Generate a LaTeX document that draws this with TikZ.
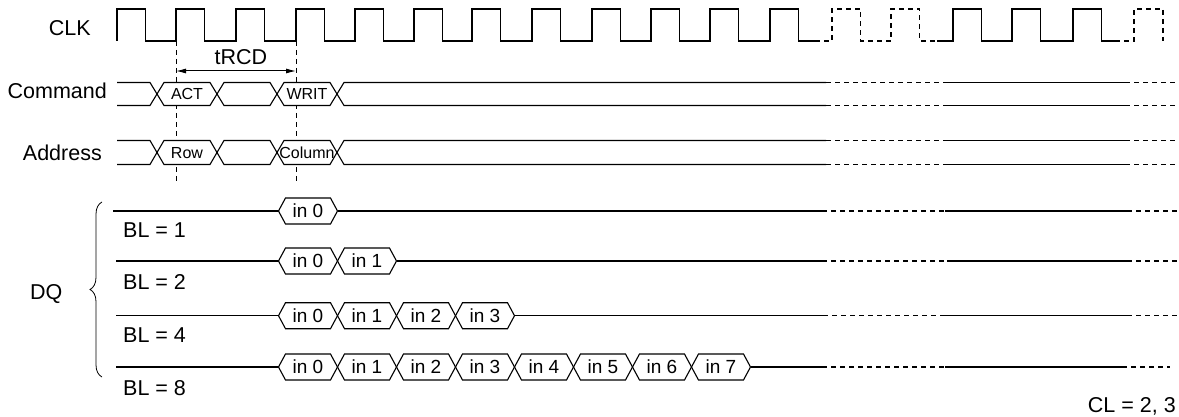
\documentclass[tikz,border=0pt]{standalone}
\usepackage{fontspec}
\setmainfont{Liberation Sans}
\usetikzlibrary{arrows.meta,decorations.pathreplacing}
\newcommand{\hexcell}[5]{% x1, x2, yc, h, d
  \draw[sig, fill=white] ({#1},{#3}) -- ({#1+#5},{#3-#4}) -- ({#2-#5},{#3-#4}) -- ({#2},{#3})
    -- ({#2-#5},{#3+#4}) -- ({#1+#5},{#3+#4}) -- cycle;}
\tikzset{
  sig/.style={line width=1.1pt, line join=miter},
  dsig/.style={sig, dash pattern=on 5pt off 4pt},
  lbl/.style={font=\fontsize{21.5}{25}\selectfont, inner sep=0pt, text depth=0pt},
  cmdtxt/.style={font=\fontsize{16}{19}\selectfont, inner sep=0pt, text depth=0pt},
  dqtxt/.style={font=\fontsize{19}{22}\selectfont, inner sep=0pt, text depth=0pt},
  marker/.style={line width=0.8pt, dash pattern=on 5pt off 4pt},
}
\begin{document}
\begin{tikzpicture}[x=1pt, y=-1pt]
\useasboundingbox (0,0) rectangle (1179,417);

% ---------- labels ----------
\node[lbl, anchor=east] (clk) at (91,28) {CLK};
\node[lbl, anchor=east] (cmd) at (107,91) {Command};
\node[lbl, anchor=east] (addr) at (102,153) {Address};
\node[lbl, anchor=west] (dq) at (30,292) {DQ};
\node[lbl, anchor=west] (bl1) at (123,230.5) {BL = 1};
\node[lbl, anchor=west] (bl2) at (123,281.7) {BL = 2};
\node[lbl, anchor=west] (bl4) at (123,335.3) {BL = 4};
\node[lbl, anchor=west] (bl8) at (123,387.8) {BL = 8};
\node[lbl, anchor=east] (cl) at (1176,405) {CL = 2, 3};

% ---------- clock ----------
\draw[sig] (117,41)
  \foreach \r in {117,176,236,296,355,414,472,532,592,651,710,770} {
    -- (\r,41) -- (\r,9) -- (\r+28.5,9) -- (\r+28.5,41) } -- (815,41);
\draw[dsig] (815,41) -- (832,41) -- (832,9) -- (860.5,9) -- (860.5,41) -- (891,41)
  -- (891,9) -- (919.5,9) -- (919.5,41) -- (937,41);
\draw[sig] (937,41)
  \foreach \r in {953,1012,1073} {
    -- (\r,41) -- (\r,9) -- (\r+28.5,9) -- (\r+28.5,41) } -- (1115,41);
\draw[dsig] (1115,41) -- (1134,41) -- (1134,9) -- (1163,9) -- (1163,41);

% ---------- tRCD markers ----------
\coordinate (m1top) at (176,41);
\coordinate (m1bot) at (176,182);
\coordinate (m2top) at (296,41);
\coordinate (m2bot) at (296,182);
\draw[marker] (m1top) -- (m1bot);
\draw[marker] (m2top) -- (m2bot);
\coordinate (a1) at (176,71);
\coordinate (a2) at (296,71);
\draw[line width=1pt, {Latex[length=10pt,width=5pt]}-{Latex[length=10pt,width=5pt]}] (a1) -- (a2);
\node[lbl] (trcd) at (241,57) {tRCD};

% ---------- Command bus ----------
\def\yc{94}\def\hh{11.5}
\draw[sig] (117,\yc-\hh) -- (150,\yc-\hh) -- (157,\yc) -- (150,\yc+\hh) -- (117,\yc+\hh);
\hexcell{157}{217}{\yc}{\hh}{7}
\hexcell{217}{277}{\yc}{\hh}{7}
\hexcell{277}{337}{\yc}{\hh}{7}
\draw[sig] (826,\yc-\hh) -- (344,\yc-\hh) -- (337,\yc) -- (344,\yc+\hh) -- (826,\yc+\hh);
\draw[dsig] (826,\yc-\hh) -- (946,\yc-\hh) (826,\yc+\hh) -- (946,\yc+\hh);
\draw[sig] (946,\yc-\hh) -- (1125,\yc-\hh) (946,\yc+\hh) -- (1125,\yc+\hh);
\draw[dsig] (1125,\yc-\hh) -- (1179,\yc-\hh) (1125,\yc+\hh) -- (1179,\yc+\hh);
\node[cmdtxt] (act) at (187,\yc) {ACT};
\node[cmdtxt] (writ) at (307,\yc) {WRIT};

% ---------- Address bus ----------
\def\yc{152.5}\def\hh{12}
\draw[sig] (117,\yc-\hh) -- (150,\yc-\hh) -- (157,\yc) -- (150,\yc+\hh) -- (117,\yc+\hh);
\hexcell{157}{217}{\yc}{\hh}{7}
\hexcell{217}{277}{\yc}{\hh}{7}
\hexcell{277}{337}{\yc}{\hh}{7}
\draw[sig] (826,\yc-\hh) -- (344,\yc-\hh) -- (337,\yc) -- (344,\yc+\hh) -- (826,\yc+\hh);
\draw[dsig] (826,\yc-\hh) -- (946,\yc-\hh) (826,\yc+\hh) -- (946,\yc+\hh);
\draw[sig] (946,\yc-\hh) -- (1125,\yc-\hh) (946,\yc+\hh) -- (1125,\yc+\hh);
\draw[dsig] (1125,\yc-\hh) -- (1179,\yc-\hh) (1125,\yc+\hh) -- (1179,\yc+\hh);
\node[cmdtxt] (row) at (187,\yc) {Row};
\node[cmdtxt] (col) at (307,\yc) {Column};

% ---------- DQ ----------
% BL = 1
\draw[sig] (113,211) -- (278.5,211);
\hexcell{278.5}{337.5}{211}{13}{7}
\node[dqtxt] (b1d0) at (308,211) {in 0};
\draw[sig] (337.5,211) -- (822,211);
\draw[dsig] (822,211) -- (945,211);
\draw[sig] (945,211) -- (1127,211);
\draw[dsig] (1127,211) -- (1179,211);
% BL = 2
\draw[sig] (116,261) -- (278.5,261);
\foreach \k/\t in {0/in 0,1/in 1} {
  \hexcell{278.5+59*\k}{337.5+59*\k}{261}{13}{7}
  \node[dqtxt] (b2d\k) at (308+59*\k,261) {\t};
}
\draw[sig] (396.5,261) -- (822,261);
\draw[dsig] (822,261) -- (947,261);
\draw[sig] (947,261) -- (1127,261);
\draw[dsig] (1127,261) -- (1179,261);
% BL = 4
\draw[sig] (116,315.7) -- (278.5,315.7);
\foreach \k/\t in {0/in 0,1/in 1,2/in 2,3/in 3} {
  \hexcell{278.5+59*\k}{337.5+59*\k}{315.7}{13}{7}
  \node[dqtxt] (b4d\k) at (308+59*\k,315.7) {\t};
}
\draw[sig] (514.5,315.7) -- (823,315.7);
\draw[dsig] (823,315.7) -- (940,315.7);
\draw[sig] (940,315.7) -- (1127,315.7);
\draw[dsig] (1127,315.7) -- (1179,315.7);
% BL = 8
\draw[sig] (116,367) -- (278.5,367);
\foreach \k/\t in {0/in 0,1/in 1,2/in 2,3/in 3,4/in 4,5/in 5,6/in 6,7/in 7} {
  \hexcell{278.5+59*\k}{337.5+59*\k}{367}{13}{7}
  \node[dqtxt] (b8d\k) at (308+59*\k,367) {\t};
}
\draw[sig] (750.5,367) -- (822,367);
\draw[dsig] (822,367) -- (945,367);
\draw[sig] (945,367) -- (1122,367);
\draw[dsig] (1122,367) -- (1170,367);

% brace
\coordinate (brb) at (102,377);
\coordinate (brt) at (102,202);
\draw[line width=0.8pt, decorate, decoration={brace, amplitude=12pt}] (brb) -- (brt);
\end{tikzpicture}
\end{document}
